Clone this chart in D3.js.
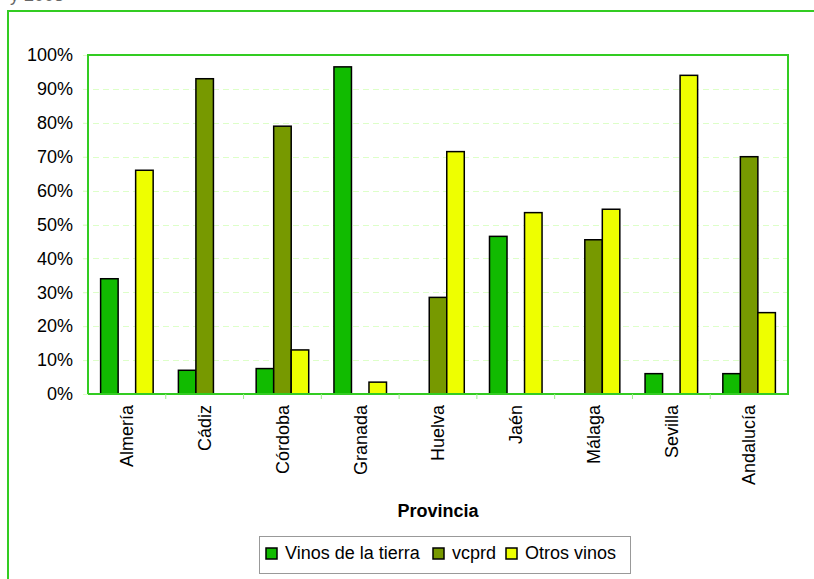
<!doctype html>
<html lang="en">
<head>
<meta charset="utf-8">
<style>
  body { margin: 0; background: #fff; }
  svg { display: block; font-family: "Liberation Sans", Arial, sans-serif; }
  .grid line { stroke: #ddffc8; stroke-dasharray: 6,4; }
</style>
</head>
<body>
<script src="https://cdn.jsdelivr.net/npm/d3@7"></script>
<script>
// provinces and shares (%) per wine type
var provincias = ["Almería", "Cádiz", "Córdoba", "Granada", "Huelva", "Jaén", "Málaga", "Sevilla", "Andalucía"];
var vinosTierra = [34, 7, 7.5, 96.5, 0, 46.5, 0, 6, 6];
var vcprd = [0, 93, 79, 0, 28.5, 0, 45.5, 0, 70];
var otrosVinos = [66, 0, 13, 3.5, 71.5, 53.5, 54.5, 94, 24];
var seriesNames = ["Vinos de la tierra", "vcprd", "Otros vinos"];
var seriesColors = ["#11bb00", "#779900", "#eeff00"];
var yTicks = [0, 10, 20, 30, 40, 50, 60, 70, 80, 90, 100];

var width = 814, height = 579;
var plot = {left: 88, top: 55, right: 788, bottom: 394};

var svg = d3.select("body").append("svg")
  .attr("width", width).attr("height", height);

// cut off text at the very top
svg.append("text").attr("x", 10).attr("y", 1)
  .attr("font-size", 18).attr("fill", "#666").text("y 2003");

// outer frame (runs off the page right and bottom)
svg.append("rect").attr("x", 8).attr("y", 11)
  .attr("width", 830).attr("height", 600)
  .attr("fill", "none").attr("stroke", "#33cc22").attr("stroke-width", 2);

var x = d3.scaleBand().domain(provincias).range([plot.left, plot.right]);
var xs = d3.scaleBand().domain(seriesNames)
  .range([0, x.bandwidth()]).paddingOuter(0.72);
var y = d3.scaleLinear().domain([0, 100]).range([plot.bottom, plot.top]);

// gridlines
svg.append("g").attr("class", "grid")
  .selectAll("line").data(yTicks.filter(function(d){ return d > 0 && d < 100; }))
  .enter().append("line")
  .attr("x1", plot.left - 5).attr("x2", plot.right)
  .attr("y1", function(d){ return Math.round(y(d)) + 0.5; })
  .attr("y2", function(d){ return Math.round(y(d)) + 0.5; });

// y axis labels
var yAxis = d3.axisLeft(y).tickValues(yTicks).tickSize(5)
  .tickFormat(function(d){ return d + "%"; });
var ya = svg.append("g").attr("transform", "translate(" + plot.left + ",0)").call(yAxis);
ya.select(".domain").remove();
ya.selectAll(".tick line").attr("stroke", "#ddffc8");
ya.selectAll("text").attr("font-size", 18).attr("fill", "#000")
  .attr("font-family", "Liberation Sans, Arial, sans-serif").attr("x", -15);

// bars
var rows = provincias.map(function(p, i){
  return [vinosTierra[i], vcprd[i], otrosVinos[i]].map(function(v, j){
    return {prov: p, serie: seriesNames[j], value: v, color: seriesColors[j]};
  });
});
svg.append("g").selectAll("g").data(rows).enter().append("g")
  .attr("transform", function(d){ return "translate(" + x(d[0].prov) + ",0)"; })
  .selectAll("rect").data(function(d){ return d.filter(function(e){ return e.value > 0; }); })
  .enter().append("rect")
  .attr("x", function(d){ return xs(d.serie); })
  .attr("width", xs.bandwidth())
  .attr("y", function(d){ return y(d.value); })
  .attr("height", function(d){ return y(0) - y(d.value); })
  .attr("fill", function(d){ return d.color; })
  .attr("stroke", "#000").attr("stroke-width", 1.5);

// plot frame
svg.append("path")
  .attr("d", "M" + plot.left + "," + plot.bottom + "V" + plot.top + "H" + plot.right + "V" + plot.bottom + "H" + plot.left)
  .attr("fill", "none").attr("stroke", "#33cc22").attr("stroke-width", 2);

// x axis
var xAxis = d3.axisBottom(x).tickSize(0);
var xa = svg.append("g").attr("transform", "translate(0," + plot.bottom + ")").call(xAxis);
xa.select(".domain").remove();
xa.selectAll("text").attr("font-size", 18).attr("fill", "#000")
  .attr("font-family", "Liberation Sans, Arial, sans-serif")
  .attr("transform", "rotate(-90)").attr("text-anchor", "end")
  .attr("x", -11).attr("y", 0).attr("dy", "0.35em");
svg.append("g").selectAll("line").data(provincias.slice(1)).enter().append("line")
  .attr("x1", function(d){ return x(d); }).attr("x2", function(d){ return x(d); })
  .attr("y1", plot.bottom).attr("y2", plot.bottom + 5)
  .attr("stroke", "#99ee88");

svg.append("text").attr("x", (plot.left + plot.right) / 2).attr("y", 517)
  .attr("text-anchor", "middle").attr("font-size", 18).attr("font-weight", "bold")
  .text("Provincia");

// legend
var legend = svg.append("g");
legend.append("rect").attr("x", 259.5).attr("y", 536.5).attr("width", 371).attr("height", 37)
  .attr("fill", "#fff").attr("stroke", "#999");
var legX = [266, 433, 506];
seriesNames.forEach(function(s, i){
  legend.append("rect").attr("x", legX[i]).attr("y", 548).attr("width", 11).attr("height", 11)
    .attr("fill", seriesColors[i]).attr("stroke", "#000").attr("stroke-width", 1.5);
  legend.append("text").attr("x", legX[i] + 19).attr("y", 558.5)
    .attr("font-size", 18).text(s);
});
</script>
</body>
</html>
